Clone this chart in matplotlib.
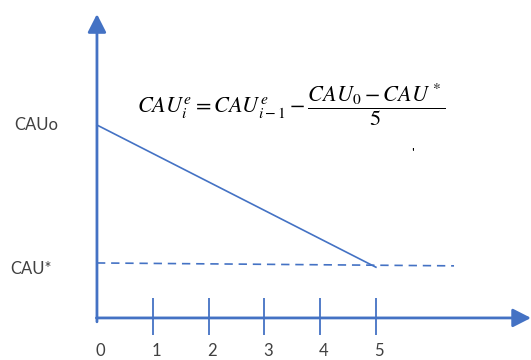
import matplotlib
matplotlib.use('Agg')
import matplotlib.pyplot as plt

plt.rcParams['mathtext.fontset'] = 'stix'
plt.rcParams['font.family'] = ['Lato', 'DejaVu Sans']

# data
periods = [0, 1, 2, 3, 4, 5]
cau_0 = 1.0
cau_star = 0.275
path_x = [0, 5]
path_y = [cau_0, cau_star - 0.012]
target_x = [0, 6.4]
target_y = [cau_star + 0.01, cau_star - 0.005]

blue = '#4472C4'
grey = '#404040'

fig = plt.figure(figsize=(5.31, 3.6), dpi=100)
ax = fig.add_axes([0, 0, 1, 1])
ax.set_xlim(-1.738, 7.78)
ax.set_ylim(-0.218, 1.648)
ax.axis('off')

# axes with arrows
arrow = dict(arrowstyle='-|>,head_length=0.55,head_width=0.28',
             color=blue, lw=2.0, shrinkA=0, shrinkB=0, mutation_scale=20)
ax.annotate('', xy=(7.78, 0), xytext=(-0.01, 0), arrowprops=arrow,
            annotation_clip=False)
ax.annotate('', xy=(0, 1.575), xytext=(0, -0.02), arrowprops=arrow,
            annotation_clip=False)

# tick marks and labels
ax.vlines(periods[1:], -0.09, 0.105, color=blue, lw=1.3)
for p in periods:
    ax.text(p + 0.06, -0.17, str(p), ha='center', va='center', fontsize=12, color=grey)

# lines
ax.plot(path_x, path_y, color=blue, lw=1.2)
ax.plot(target_x, target_y, color=blue, lw=1.2, ls=(0, (5, 3.5)))

ax.text(-1.48, cau_0, 'CAUo', ha='left', va='center', fontsize=12, color=grey)
ax.text(-1.56, cau_star - 0.02, 'CAU*', ha='left', va='center', fontsize=12, color=grey)

ax.text(3.48, 1.1, r'$CAU_i^e = CAU_{i-1}^e - \dfrac{CAU_0 - CAU^*}{5}$',
        ha='center', va='center', fontsize=16, color='black')
ax.text(5.66, 0.85, "'", ha='center', va='center', fontsize=10, color='black')

fig.savefig('out.png', dpi=100)
